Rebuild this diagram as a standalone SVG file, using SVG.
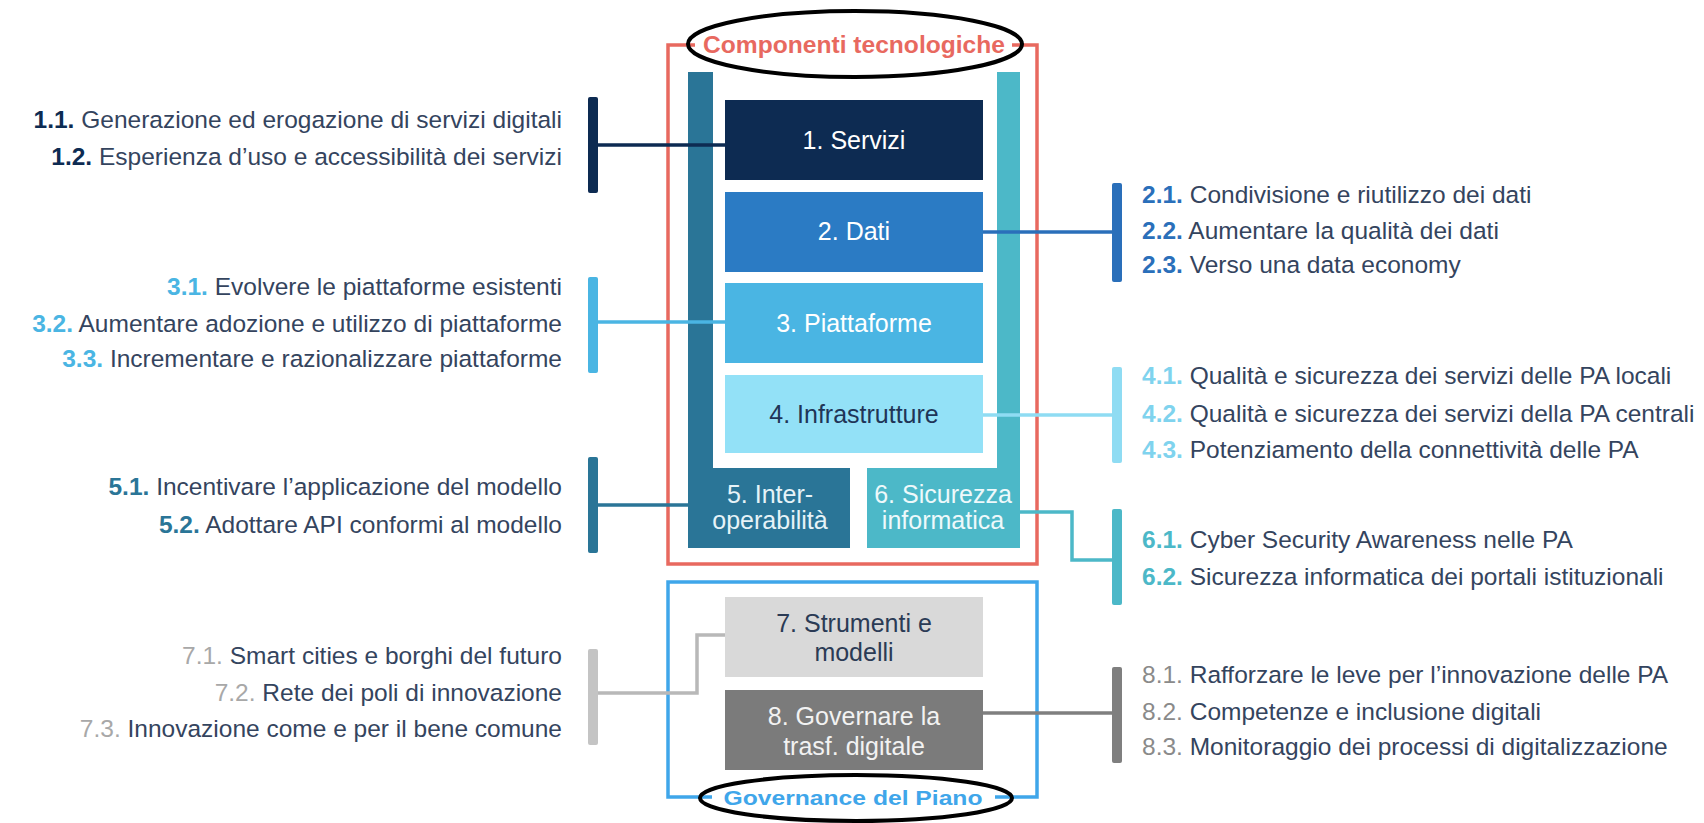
<svg xmlns="http://www.w3.org/2000/svg" width="1704" height="823" viewBox="0 0 1704 823">
<style>
.t{font-family:"Liberation Sans",Arial,sans-serif;font-size:24.5px;fill:#34445e}
.n{font-weight:bold}
.bx{font-family:"Liberation Sans",Arial,sans-serif;font-size:25px;text-anchor:middle}
.lbl{font-family:"Liberation Sans",Arial,sans-serif;font-weight:bold;text-anchor:middle}
.c{fill:none;stroke-width:3.5}
.l{text-anchor:end}
</style>
<rect width="1704" height="823" fill="#ffffff"/>

<g id="frame-componenti">
<rect x="668" y="45" width="369" height="519" fill="none" stroke="#e8695f" stroke-width="3.5"/>
<rect x="695" y="38" width="317" height="14" fill="#ffffff"/>
<text class="lbl" x="854" y="53" font-size="24" fill="#e8695f" textLength="302" lengthAdjust="spacingAndGlyphs">Componenti tecnologiche</text>
</g>
<g id="frame-governance">
<rect x="668" y="582" width="369" height="215" fill="none" stroke="#3fa6ea" stroke-width="3.5"/>
<rect x="712" y="789" width="283" height="16" fill="#ffffff"/>
<text class="lbl" x="853" y="805" font-size="21" fill="#3fa6ea" textLength="259" lengthAdjust="spacingAndGlyphs">Governance del Piano</text>
</g>

<g id="n5">
<path d="M688 72 H713 V468 H850 V548 H688 Z" fill="#2a7597"/>
<text class="bx" x="770" y="503" fill="#e6f3f8">5. Inter-</text>
<text class="bx" x="770" y="529" fill="#e6f3f8">operabilità</text>
</g>
<g id="n6">
<path d="M997 72 H1020 V548 H867 V468 H997 Z" fill="#4cb8c8"/>
<text class="bx" x="943" y="503" fill="#eef9fb">6. Sicurezza</text>
<text class="bx" x="943" y="529" fill="#eef9fb">informatica</text>
</g>
<g id="n1">
<rect x="725" y="100" width="258" height="80" fill="#0d2b52"/>
<text class="bx" x="854" y="149" fill="#ffffff">1. Servizi</text>
</g>
<g id="n2">
<rect x="725" y="192" width="258" height="80" fill="#2b7bc4"/>
<text class="bx" x="854" y="240" fill="#ffffff">2. Dati</text>
</g>
<g id="n3">
<rect x="725" y="283" width="258" height="80" fill="#4ab5e3"/>
<text class="bx" x="854" y="332" fill="#ffffff">3. Piattaforme</text>
</g>
<g id="n4">
<rect x="725" y="375" width="258" height="78" fill="#93e1f7"/>
<text class="bx" x="854" y="423" fill="#1f3557">4. Infrastrutture</text>
</g>
<g id="n7">
<rect x="725" y="597" width="258" height="80" fill="#d9d9d9"/>
<text class="bx" x="854" y="632" font-size="26" fill="#2b3b55">7. Strumenti e</text>
<text class="bx" x="854" y="661" font-size="26" fill="#2b3b55">modelli</text>
</g>
<g id="n8">
<rect x="725" y="690" width="258" height="80" fill="#7b7b7b"/>
<text class="bx" x="854" y="725" font-size="26" fill="#f2f2f2">8. Governare la</text>
<text class="bx" x="854" y="755" font-size="26" fill="#f2f2f2">trasf. digitale</text>
</g>

<g id="connectors">
<path class="c" d="M593 145 H725" stroke="#0d2b52"/>
<path class="c" d="M983 232 H1117" stroke="#2a6fba"/>
<path class="c" d="M593 322 H725" stroke="#4ab5e3"/>
<path class="c" d="M983 415 H1117" stroke="#8fdcf3"/>
<path class="c" d="M593 505 H688" stroke="#2a7597"/>
<path class="c" d="M1020 512 H1072 V560 H1117" stroke="#4cb8c8"/>
<path class="c" d="M593 693 H697 V635 H725" stroke="#b8b8b8"/>
<path class="c" d="M983 713 H1117" stroke="#7f7f7f"/>
</g>

<g id="obj1">
<rect x="588" y="97" width="10" height="96" rx="2" fill="#0d2b52"/>
<text class="t l" x="562" y="128"><tspan class="n" fill="#0d2b52">1.1.</tspan> Generazione ed erogazione di servizi digitali</text>
<text class="t l" x="562" y="165"><tspan class="n" fill="#0d2b52">1.2.</tspan> Esperienza d’uso e accessibilità dei servizi</text>
</g>
<g id="obj3">
<rect x="588" y="277" width="10" height="96" rx="2" fill="#4ab5e3"/>
<text class="t l" x="562" y="295"><tspan class="n" fill="#4ab5e3">3.1.</tspan> Evolvere le piattaforme esistenti</text>
<text class="t l" x="562" y="332"><tspan class="n" fill="#4ab5e3">3.2.</tspan> Aumentare adozione e utilizzo di piattaforme</text>
<text class="t l" x="562" y="367"><tspan class="n" fill="#4ab5e3">3.3.</tspan> Incrementare e razionalizzare piattaforme</text>
</g>
<g id="obj5">
<rect x="588" y="457" width="10" height="96" rx="2" fill="#2a7597"/>
<text class="t l" x="562" y="495"><tspan class="n" fill="#2a7597">5.1.</tspan> Incentivare l’applicazione del modello</text>
<text class="t l" x="562" y="533"><tspan class="n" fill="#2a7597">5.2.</tspan> Adottare API conformi al modello</text>
</g>
<g id="obj7">
<rect x="588" y="649" width="10" height="96" rx="2" fill="#c4c4c4"/>
<text class="t l" x="562" y="664"><tspan fill="#a8a8a8">7.1.</tspan> Smart cities e borghi del futuro</text>
<text class="t l" x="562" y="701"><tspan fill="#a8a8a8">7.2.</tspan> Rete dei poli di innovazione</text>
<text class="t l" x="562" y="737"><tspan fill="#a8a8a8">7.3.</tspan> Innovazione come e per il bene comune</text>
</g>

<g id="obj2">
<rect x="1112" y="183" width="10" height="99" rx="2" fill="#2a6fba"/>
<text class="t" x="1142" y="203"><tspan class="n" fill="#2a6fba">2.1.</tspan> Condivisione e riutilizzo dei dati</text>
<text class="t" x="1142" y="239"><tspan class="n" fill="#2a6fba">2.2.</tspan> Aumentare la qualità dei dati</text>
<text class="t" x="1142" y="273"><tspan class="n" fill="#2a6fba">2.3.</tspan> Verso una data economy</text>
</g>
<g id="obj4">
<rect x="1112" y="367" width="10" height="96" rx="2" fill="#8fdcf3"/>
<text class="t" x="1142" y="384"><tspan class="n" fill="#7fd3ee">4.1.</tspan> Qualità e sicurezza dei servizi delle PA locali</text>
<text class="t" x="1142" y="422"><tspan class="n" fill="#7fd3ee">4.2.</tspan> Qualità e sicurezza dei servizi della PA centrali</text>
<text class="t" x="1142" y="458"><tspan class="n" fill="#7fd3ee">4.3.</tspan> Potenziamento della connettività delle PA</text>
</g>
<g id="obj6">
<rect x="1112" y="509" width="10" height="96" rx="2" fill="#4cb8c8"/>
<text class="t" x="1142" y="548"><tspan class="n" fill="#4cb8c8">6.1.</tspan> Cyber Security Awareness nelle PA</text>
<text class="t" x="1142" y="585"><tspan class="n" fill="#4cb8c8">6.2.</tspan> Sicurezza informatica dei portali istituzionali</text>
</g>
<g id="obj8">
<rect x="1112" y="667" width="10" height="96" rx="2" fill="#7f7f7f"/>
<text class="t" x="1142" y="683"><tspan fill="#8a8a8a">8.1.</tspan> Rafforzare le leve per l’innovazione delle PA</text>
<text class="t" x="1142" y="720"><tspan fill="#8a8a8a">8.2.</tspan> Competenze e inclusione digitali</text>
<text class="t" x="1142" y="755"><tspan fill="#8a8a8a">8.3.</tspan> Monitoraggio dei processi di digitalizzazione</text>
</g>

<g id="highlights" fill="none" stroke="#000000" stroke-width="4">
<ellipse cx="855" cy="44" rx="167" ry="33"/>
<ellipse cx="856" cy="798" rx="156" ry="23"/>
</g>
</svg>
